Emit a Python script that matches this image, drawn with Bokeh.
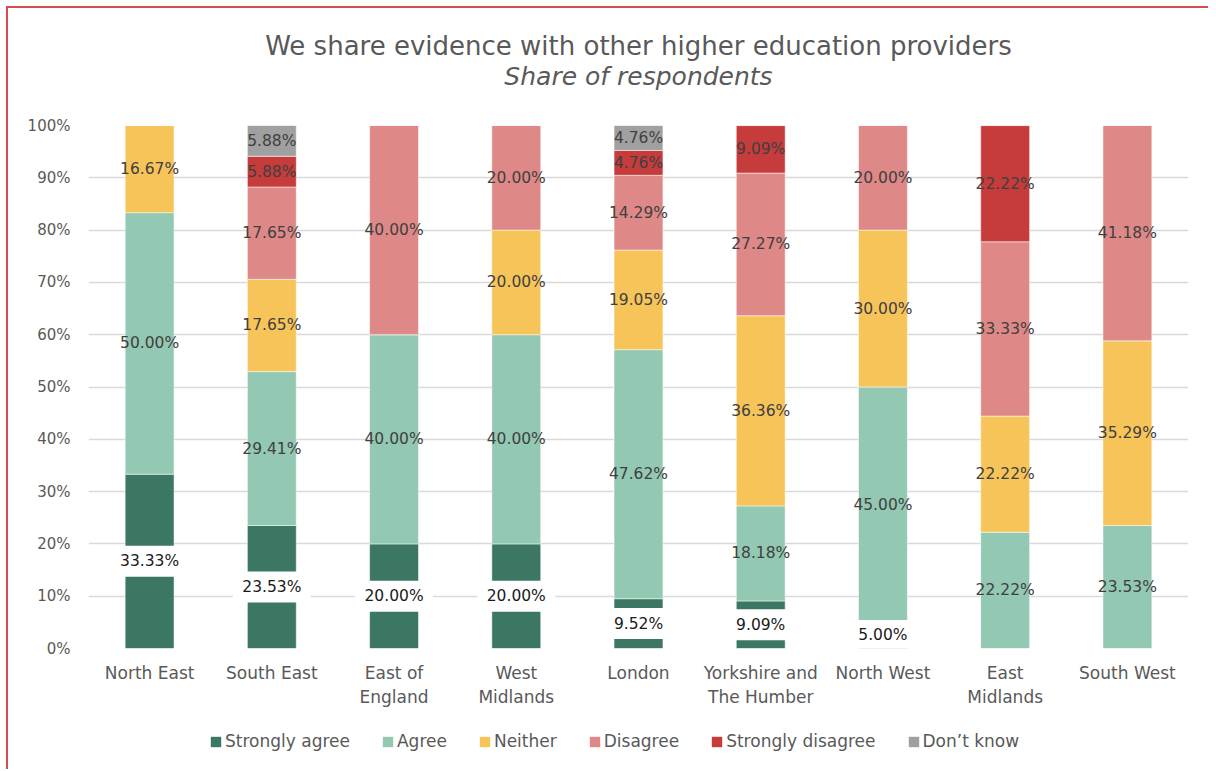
from bokeh.plotting import figure
from bokeh.models import (ColumnDataSource, Legend, LegendItem,
                          FixedTicker, NumeralTickFormatter, Range1d)
from bokeh.layouts import column
from bokeh.core.properties import value
from bokeh.embed import file_html
from bokeh.resources import INLINE

regions = ["North East", "South East", "East of\nEngland", "West\nMidlands", "London",
           "Yorkshire and\nThe Humber", "North West", "East\nMidlands", "South West"]
responses = ["Strongly agree", "Agree", "Neither", "Disagree", "Strongly disagree", "Don\u2019t know"]
title_text = "We share evidence with other higher education providers"
subtitle_text = "Share of respondents"

strongly_agree    = [33.33, 23.53, 20.00, 20.00,  9.52,  9.09,  5.00,  0.00,  0.00]
agree             = [50.00, 29.41, 40.00, 40.00, 47.62, 18.18, 45.00, 22.22, 23.53]
neither           = [16.67, 17.65,  0.00, 20.00, 19.05, 36.36, 30.00, 22.22, 35.29]
disagree          = [ 0.00, 17.65, 40.00, 20.00, 14.29, 27.27, 20.00, 33.33, 41.18]
strongly_disagree = [ 0.00,  5.88,  0.00,  0.00,  4.76,  9.09,  0.00, 22.22,  0.00]
dont_know         = [ 0.00,  5.88,  0.00,  0.00,  4.76,  0.00,  0.00,  0.00,  0.00]

series = [strongly_agree, agree, neither, disagree, strongly_disagree, dont_know]
colors = ["#3c7763", "#93c8b3", "#f7c45a", "#de8987", "#c63b3b", "#a0a0a0"]

FONT = "DejaVu Sans"
GREY = "#595959"
W = 1200


def bare(fig):
    fig.axis.visible = False
    fig.grid.visible = False
    fig.outline_line_color = None
    return fig


# ---- title block ----
tp = bare(figure(width=W, height=107, output_backend="svg", toolbar_location=None,
                 x_range=Range1d(0, W), y_range=Range1d(0, 107),
                 min_border=0, min_border_left=0, min_border_right=0,
                 min_border_top=0, min_border_bottom=0))
tp.text(x=[600], y=[70], text=[title_text], text_align="center", text_baseline="middle",
        text_font=value(FONT), text_font_size="26px", text_color=GREY)
tp.text(x=[600], y=[39], text=[subtitle_text], text_align="center", text_baseline="middle",
        text_font=value(FONT), text_font_size="25px", text_font_style="italic",
        text_color=GREY)

# ---- main chart ----
p = figure(x_range=regions, width=W, height=598, output_backend="svg",
           toolbar_location=None, title=None,
           min_border_left=80, min_border_right=20, min_border_top=10, min_border_bottom=65)
p.y_range = Range1d(0, 1.0)

bottoms = [0.0] * len(regions)
label_x, label_y, label_t = [], [], []
sa_x, sa_y, sa_t = [], [], []
for k, (name, vals, col) in enumerate(zip(responses, series, colors)):
    fr = [v / 100.0 for v in vals]
    tops = [b + f for b, f in zip(bottoms, fr)]
    src = ColumnDataSource(dict(x=regions, bottom=bottoms, top=tops))
    p.vbar(x="x", bottom="bottom", top="top", width=0.4, source=src,
           fill_color=col, line_color="white", line_alpha=0.5, line_width=1)
    for reg, b, f, v in zip(regions, bottoms, fr, vals):
        if v > 0:
            if k == 0:
                sa_x.append(reg); sa_y.append(b + f / 2); sa_t.append(f"{v:.2f}%")
            else:
                label_x.append(reg); label_y.append(b + f / 2); label_t.append(f"{v:.2f}%")
    bottoms = tops

lab_src = ColumnDataSource(dict(x=label_x, y=label_y, t=label_t))
p.text(x="x", y="y", text="t", source=lab_src, text_align="center", text_baseline="middle",
       text_font=value(FONT), text_font_size="15.5px", text_color="#404040")

sa_src = ColumnDataSource(dict(x=sa_x, y=sa_y, t=sa_t))
p.rect(x="x", y="y", width=78, height=31, width_units="screen", height_units="screen",
       source=sa_src, fill_color="white", line_color=None)
p.text(x="x", y="y", text="t", source=sa_src, text_align="center", text_baseline="middle",
       text_font=value(FONT), text_font_size="15.5px", text_color="#1a1a1a")

p.yaxis.ticker = FixedTicker(ticks=[i / 10 for i in range(11)])
p.yaxis.formatter = NumeralTickFormatter(format="0%")
for ax in (p.xaxis, p.yaxis):
    ax.axis_line_color = None
    ax.major_tick_line_color = None
    ax.minor_tick_line_color = None
    ax.major_label_text_font = FONT
    ax.major_label_text_font_size = "15px"
    ax.major_label_text_color = GREY
p.yaxis.major_label_standoff = 12
p.xaxis.major_label_standoff = 8
p.xaxis.major_label_text_font_size = "17px"

p.xgrid.grid_line_color = None
p.ygrid.grid_line_color = "#d9d9d9"
p.ygrid.grid_line_width = 1.5
p.outline_line_color = None
p.x_range.range_padding = 0.0

# ---- legend block ----
lp = bare(figure(width=W, height=56, output_backend="svg", toolbar_location=None,
                 x_range=Range1d(0, 1), y_range=Range1d(0, 1),
                 min_border=0, min_border_left=0, min_border_right=0,
                 min_border_top=0, min_border_bottom=0))
items = []
for name, col in zip(responses, colors):
    src = ColumnDataSource(dict(x=[-5.0], bottom=[-5.0], top=[-4.0]))
    r = lp.vbar(x="x", bottom="bottom", top="top", width=0.5, source=src,
                fill_color=col, line_color=None)
    items.append(LegendItem(label=name, renderers=[r]))
legend = Legend(items=items, orientation="horizontal", location=(121, 18),
                label_text_font=FONT, label_text_font_size="17px", label_text_color=GREY,
                glyph_width=13, glyph_height=13, label_standoff=3, spacing=31,
                border_line_color=None, background_fill_alpha=0, padding=0, margin=0)
lp.add_layout(legend, "center")

page = column(tp, p, lp, spacing=0)
page.styles = {"border-left": "2px solid #d14f4f", "border-top": "2px solid #d14f4f",
               "margin-left": "6px", "margin-top": "6px"}

open("out.html", "w").write(file_html(page, INLINE))
